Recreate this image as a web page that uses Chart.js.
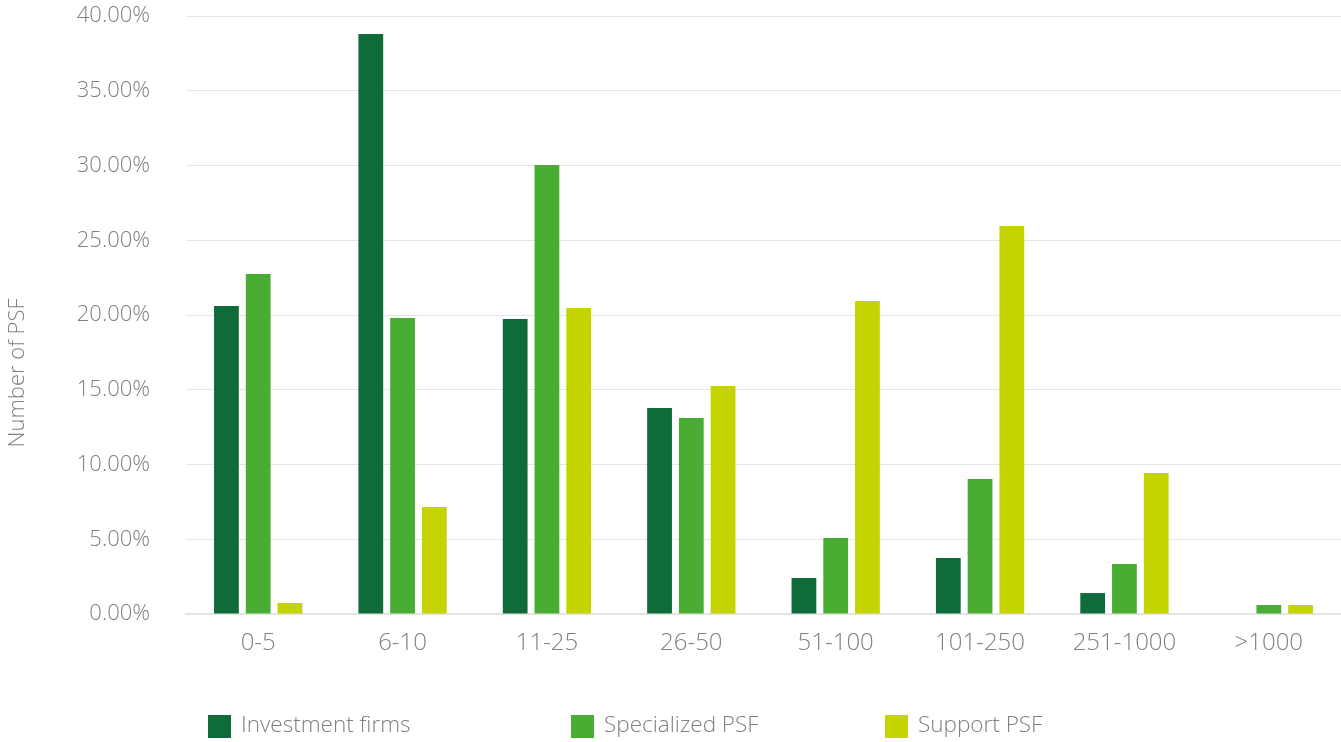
<!DOCTYPE html>
<html>
<head>
<meta charset="utf-8">
<script src="https://cdn.jsdelivr.net/npm/chart.js@4/dist/chart.umd.min.js"></script>
<style>
  html, body { margin: 0; padding: 0; background: #ffffff; }
  #wrap { width: 1341px; height: 742px; position: relative; }
</style>
</head>
<body>
<div id="wrap"><canvas id="c"></canvas></div>
<script>
const categories = ['0-5', '6-10', '11-25', '26-50', '51-100', '101-250', '251-1000', '>1000'];
const investmentFirms = [20.6, 38.8, 19.73, 13.78, 2.41, 3.75, 1.4, 0];
const specializedPSF = [22.74, 19.8, 30.03, 13.11, 5.08, 9.03, 3.34, 0.6];
const supportPSF = [0.74, 7.16, 20.47, 15.25, 20.94, 25.95, 9.43, 0.6];
const seriesNames = ['Investment firms', 'Specialized PSF', 'Support PSF'];
const yAxisTitle = 'Number of PSF';

const colors = ['#0f6b3a', '#4aad33', '#c4d400'];
const textColor = '#808080';
const fontFamily = "'Open Sans', 'Noto Sans', sans-serif";

const yTitlePlugin = {
  id: 'yTitle',
  afterDraw(chart) {
    const ctx = chart.ctx;
    ctx.save();
    ctx.font = '300 22px ' + fontFamily;
    ctx.fillStyle = textColor;
    ctx.textAlign = 'center';
    ctx.textBaseline = 'middle';
    ctx.translate(18, 373);
    ctx.rotate(-Math.PI / 2);
    ctx.fillText(yAxisTitle, 0, 0);
    ctx.restore();
  }
};

const legendX = [208, 571, 885];
const customLegend = {
  id: 'customLegend',
  afterDraw(chart) {
    const ctx = chart.ctx;
    ctx.save();
    ctx.font = '300 22.5px ' + fontFamily;
    ctx.textBaseline = 'middle';
    ctx.textAlign = 'left';
    chart.data.datasets.forEach((ds, i) => {
      const x = legendX[i];
      ctx.fillStyle = ds.backgroundColor;
      ctx.fillRect(x, 715, 23, 23);
      ctx.fillStyle = textColor;
      ctx.fillText(ds.label, x + 33, 726);
    });
    ctx.restore();
  }
};

new Chart(document.getElementById('c'), {
  type: 'bar',
  data: {
    labels: categories,
    datasets: [
      { label: seriesNames[0], data: investmentFirms, backgroundColor: colors[0] },
      { label: seriesNames[1], data: specializedPSF, backgroundColor: colors[1] },
      { label: seriesNames[2], data: supportPSF, backgroundColor: colors[2] }
    ]
  },
  options: {
    responsive: true,
    maintainAspectRatio: false,
    animation: false,
    layout: { padding: { top: 16, right: 0, left: 0, bottom: 0 } },
    datasets: { bar: { categoryPercentage: 0.66, barPercentage: 0.78 } },
    plugins: {
      legend: { display: false },
      tooltip: { enabled: false }
    },
    scales: {
      x: {
        grid: { display: false, drawTicks: false },
        border: { display: true, color: '#e4e4e4', width: 2 },
        ticks: {
          color: textColor,
          padding: 15,
          maxRotation: 0,
          font: { family: fontFamily, size: 24, weight: 300 }
        },
        afterFit(scale) { scale.height = 128; scale.paddingLeft = 0; scale.paddingRight = 0; }
      },
      y: {
        min: 0,
        max: 40,
        grid: { color: '#e6e6e6', lineWidth: 1, drawTicks: false },
        border: { display: false },
        ticks: {
          stepSize: 5,
          color: textColor,
          padding: 36,
          font: { family: fontFamily, size: 22, weight: 300 },
          callback: (v) => v.toFixed(2) + '%'
        },
        afterFit(scale) { scale.width = 186; scale.paddingTop = 0; scale.paddingBottom = 0; }
      }
    }
  },
  plugins: [yTitlePlugin, customLegend]
});
</script>
</body>
</html>
